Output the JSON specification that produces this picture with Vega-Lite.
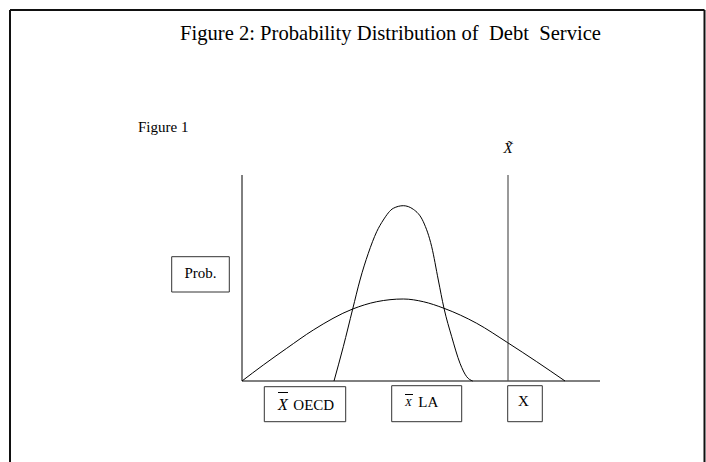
{
  "$schema": "https://vega.github.io/schema/vega-lite/v6.json",
  "width": 706,
  "height": 462,
  "autosize": {"type": "none"},
  "padding": 0,
  "background": "white",
  "config": {"view": {"stroke": null}, "text": {"font": "Liberation Serif", "color": "black"}},
  "datasets": {
    "frame": [
      {"x": -23.2, "y": 37.1, "x2": -23.2, "y2": -8.2},
      {"x": -23.2, "y": 37.1, "x2": 46.25, "y2": 37.1},
      {"x": 46.25, "y": 37.1, "x2": 46.25, "y2": -8.2}
    ],
    "axes": [
      {"x": 0, "y": 0, "x2": 0, "y2": 20.6},
      {"x": 0, "y": 0, "x2": 35.8, "y2": 0}
    ],
    "xtilde": [
      {"x": 26.6, "y": 0, "x2": 26.6, "y2": 20.6}
    ],
    "curves": [
      {"series": "OECD", "x": 0, "y": 0},
      {"series": "OECD", "x": 2.13, "y": 1.6},
      {"series": "OECD", "x": 4.47, "y": 3.27},
      {"series": "OECD", "x": 7.13, "y": 5.1},
      {"series": "OECD", "x": 11.07, "y": 7.2},
      {"series": "OECD", "x": 13.47, "y": 7.93},
      {"series": "OECD", "x": 16.13, "y": 8.2},
      {"series": "OECD", "x": 18.13, "y": 7.93},
      {"series": "OECD", "x": 20.2, "y": 7.27},
      {"series": "OECD", "x": 23.47, "y": 5.77},
      {"series": "OECD", "x": 26.57, "y": 3.83},
      {"series": "OECD", "x": 29.47, "y": 1.93},
      {"series": "OECD", "x": 32.3, "y": 0},
      {"series": "LA", "x": 9.2, "y": 0},
      {"series": "LA", "x": 10.13, "y": 3.43},
      {"series": "LA", "x": 11.07, "y": 7.2},
      {"series": "LA", "x": 11.8, "y": 10.1},
      {"series": "LA", "x": 12.63, "y": 12.77},
      {"series": "LA", "x": 13.47, "y": 14.93},
      {"series": "LA", "x": 14.13, "y": 16.1},
      {"series": "LA", "x": 15.13, "y": 17.27},
      {"series": "LA", "x": 16.13, "y": 17.53},
      {"series": "LA", "x": 17.13, "y": 17.17},
      {"series": "LA", "x": 18.13, "y": 15.93},
      {"series": "LA", "x": 18.97, "y": 13.43},
      {"series": "LA", "x": 19.63, "y": 10.1},
      {"series": "LA", "x": 20.2, "y": 7.27},
      {"series": "LA", "x": 20.97, "y": 4.43},
      {"series": "LA", "x": 21.8, "y": 1.77},
      {"series": "LA", "x": 22.47, "y": 0.43},
      {"series": "LA", "x": 23.07, "y": 0}
    ],
    "boxes": [
      {"box": "Prob", "x": -7.03, "x2": -1.27, "y": 12.43, "y2": 8.9},
      {"box": "OECD", "x": 2.23, "x2": 10.37, "y": -0.57, "y2": -4.07},
      {"box": "LA", "x": 14.97, "x2": 21.97, "y": -0.47, "y2": -4.07},
      {"box": "X", "x": 26.57, "x2": 30.03, "y": -0.47, "y2": -4.07}
    ],
    "overlines": [
      {"x": 3.6, "x2": 4.6, "y": -1.15, "y2": -1.15},
      {"x": 16.3, "x2": 17.1, "y": -1.35, "y2": -1.35}
    ],
    "title": [
      {"label": "Figure 2: Probability Distribution of \u00a0Debt \u00a0Service", "x": -6.2, "y": 34.1}
    ],
    "leftLabels": [
      {"label": "Figure 1", "x": -10.4, "y": 24.87},
      {"label": "OECD", "x": 5.13, "y": -2.9},
      {"label": "LA", "x": 17.63, "y": -2.63}
    ],
    "centerLabels": [
      {"label": "Prob.", "x": -4.15, "y": 10.27},
      {"label": "X", "x": 28.13, "y": -2.47}
    ],
    "italicBig": [
      {"label": "X", "x": 3.6, "y": -2.9}
    ],
    "italicSmall": [
      {"label": "X", "x": 16.3, "y": -2.5}
    ],
    "tildeLabel": [
      {"label": "X̃", "x": 26.6, "y": 22.8}
    ]
  },
  "encoding": {
    "x": {"field": "x", "type": "quantitative", "scale": {"domain": [-24.2, 46.4], "nice": false, "zero": false}, "axis": null},
    "y": {"field": "y", "type": "quantitative", "scale": {"domain": [-8.1, 38.1], "nice": false, "zero": false}, "axis": null}
  },
  "layer": [
    {
      "data": {"name": "frame"},
      "mark": {"type": "rule", "color": "#111", "strokeWidth": 2},
      "encoding": {"x2": {"field": "x2"}, "y2": {"field": "y2"}}
    },
    {
      "data": {"name": "axes"},
      "mark": {"type": "rule", "color": "black", "strokeWidth": 1},
      "encoding": {"x2": {"field": "x2"}, "y2": {"field": "y2"}}
    },
    {
      "data": {"name": "xtilde"},
      "mark": {"type": "rule", "color": "#555", "strokeWidth": 1.2},
      "encoding": {"x2": {"field": "x2"}, "y2": {"field": "y2"}}
    },
    {
      "data": {"name": "curves"},
      "mark": {"type": "line", "color": "black", "strokeWidth": 1, "interpolate": "monotone"},
      "encoding": {"detail": {"field": "series"}}
    },
    {
      "data": {"name": "boxes"},
      "mark": {"type": "rect", "fill": "white", "stroke": "#333", "strokeWidth": 1},
      "encoding": {"x2": {"field": "x2"}, "y2": {"field": "y2"}}
    },
    {
      "data": {"name": "overlines"},
      "mark": {"type": "rule", "color": "black", "strokeWidth": 1},
      "encoding": {"x2": {"field": "x2"}, "y2": {"field": "y2"}}
    },
    {
      "data": {"name": "title"},
      "mark": {"type": "text", "font": "Liberation Serif", "fontSize": 20.6, "align": "left", "baseline": "alphabetic"},
      "encoding": {"text": {"field": "label"}}
    },
    {
      "data": {"name": "leftLabels"},
      "mark": {"type": "text", "font": "Liberation Serif", "fontSize": 15, "align": "left", "baseline": "alphabetic"},
      "encoding": {"text": {"field": "label"}}
    },
    {
      "data": {"name": "centerLabels"},
      "mark": {"type": "text", "font": "Liberation Serif", "fontSize": 15, "align": "center", "baseline": "alphabetic"},
      "encoding": {"text": {"field": "label"}}
    },
    {
      "data": {"name": "italicBig"},
      "mark": {"type": "text", "font": "Liberation Serif", "fontSize": 16, "fontStyle": "italic", "align": "left", "baseline": "alphabetic"},
      "encoding": {"text": {"field": "label"}}
    },
    {
      "data": {"name": "italicSmall"},
      "mark": {"type": "text", "font": "Liberation Serif", "fontSize": 11, "fontStyle": "italic", "align": "left", "baseline": "alphabetic"},
      "encoding": {"text": {"field": "label"}}
    },
    {
      "data": {"name": "tildeLabel"},
      "mark": {"type": "text", "font": "Liberation Serif", "fontSize": 15, "fontStyle": "italic", "align": "center", "baseline": "alphabetic"},
      "encoding": {"text": {"field": "label"}}
    }
  ]
}
